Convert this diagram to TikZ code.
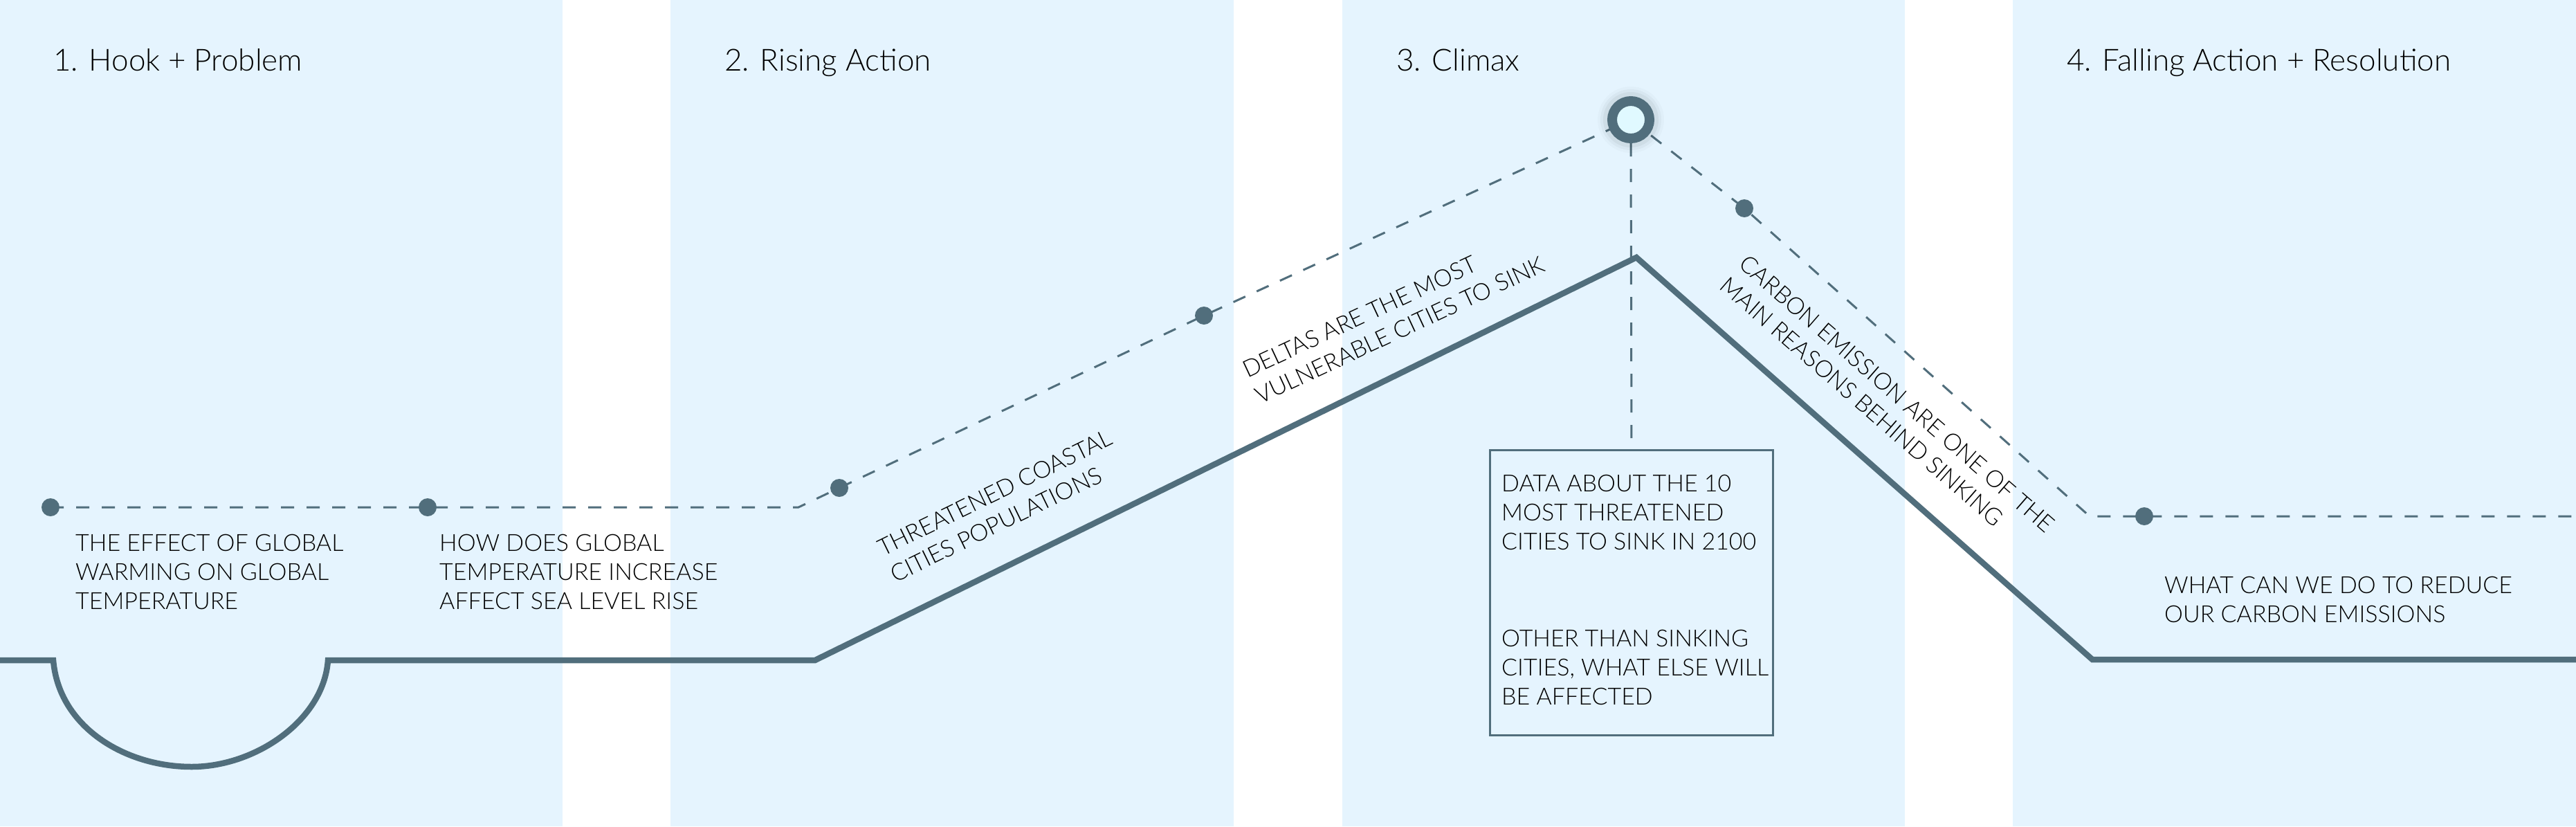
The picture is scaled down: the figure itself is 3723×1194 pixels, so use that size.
\documentclass[tikz,border=0pt]{standalone}
\usepackage{fontspec}
\setmainfont{Lato}[UprightFont={* Light}]
\definecolor{panel}{HTML}{E5F4FE}
\definecolor{slate}{HTML}{516E7C}
\definecolor{ringfill}{HTML}{E0F9FF}
\pgfdeclarelayer{panels}
\pgfdeclarelayer{lines}
\pgfsetlayers{panels,lines,main}
\tikzset{
  title/.style={anchor=base west, inner sep=0pt, font=\fontsize{44}{53}\selectfont},
  body/.style={anchor=north west, inner sep=0pt, align=left, font=\fontsize{34}{42}\selectfont},
  slanted/.style={inner sep=0pt, align=left, font=\fontsize{34}{42}\selectfont},
  dot/.style={circle, fill=slate, minimum size=26pt, inner sep=0pt},
  dashline/.style={draw=slate, line width=3pt, dash pattern=on 19pt off 18pt},
  plotline/.style={draw=slate, line width=8.5pt, line join=miter},
  infobox/.style={draw=slate, line width=3pt, minimum width=409pt, minimum height=412pt, anchor=north west, inner sep=0pt},
  ring/.style={circle, draw=slate, line width=14pt, fill=ringfill, minimum size=54pt, inner sep=0pt},
}
\begin{document}
\begin{tikzpicture}[x=1pt,y=-1pt]
\useasboundingbox (0,0) rectangle (3723,1194);
\begin{pgfonlayer}{panels}
  \fill[white] (0,0) rectangle (3723,1194);
  \fill[panel] (0,0) rectangle (813,1194);
  \fill[panel] (969,0) rectangle (1783,1194);
  \fill[panel] (1940,0) rectangle (2753,1194);
  \fill[panel] (2909,0) rectangle (3723,1194);
\end{pgfonlayer}

% titles
\node[title] (t1) at (77,102) {1. Hook + Problem};
\node[title] (t2) at (1047,102) {2. Rising Action};
\node[title] (t3) at (2018,102) {3. Climax};
\node[title] (t4) at (2987,102) {4. Falling Action + Resolution};

% dots
\node[dot] (d1) at (73,733) {};
\node[dot] (d2) at (618,733) {};
\node[dot] (d3) at (1213,705) {};
\node[dot] (d4) at (1740,456) {};
\node[dot] (d5) at (2521,301) {};
\node[dot] (d6) at (3099,746) {};

% climax ring with soft shadow
\foreach \r/\o in {48/0.02,44/0.03,40/0.045}
  \fill[black, opacity=\o] (2357,173) circle[radius=\r];
\node[ring] (climax) at (2357,173) {};

% box
\node[infobox] (box) at (2152,649) {};
\node[body] (data) at (2170,686) {DATA ABOUT THE 10\\MOST THREATENED\\CITIES TO SINK IN 2100};
\node[body] (other) at (2170,910) {OTHER THAN SINKING\\CITIES, WHAT ELSE WILL\\BE AFFECTED};

% texts
\node[body] (effect) at (109,772) {THE EFFECT OF GLOBAL\\WARMING ON GLOBAL\\TEMPERATURE};
\node[body] (howdoes) at (635,772) {HOW DOES GLOBAL\\TEMPERATURE INCREASE\\AFFECT SEA LEVEL RISE};
\node[body] (reduce) at (3128,833) {WHAT CAN WE DO TO REDUCE\\OUR CARBON EMISSIONS};
\node[slanted, rotate=26] (threat) at (1447,731) {THREATENED COASTAL\\CITIES POPULATIONS};
\node[slanted, rotate=25] (deltas) at (2014,458) {DELTAS ARE THE MOST\\VULNERABLE CITIES TO SINK};
\node[slanted, rotate=-41] (carbon) at (2728,585) {CARBON EMISSION ARE ONE OF THE\\MAIN REASONS BEHIND SINKING};

\begin{pgfonlayer}{lines}
  \draw[plotline] (0,954) -- (77,954)
    .. controls (85,1050) and (180,1108) .. (277,1108)
    .. controls (370,1108) and (468,1040) .. (474,954)
    -- (1178,954) -- (2365,372) -- (3024,953) -- (3723,953);
  \coordinate (lc) at (1154,733);
  \coordinate (rc) at (3020,746);
  \coordinate (rend) at (3723,746);
  \draw[dashline] (d1.center) -- (d2.center) -- (lc) -- (d3.center) -- (d4.center) -- (climax.center);
  \draw[dashline] (climax.center) -- (d5.center) -- (rc) -- (d6.center) -- (rend);
  \draw[dashline] (climax.south) -- (box.north);
\end{pgfonlayer}
\end{tikzpicture}
\end{document}
